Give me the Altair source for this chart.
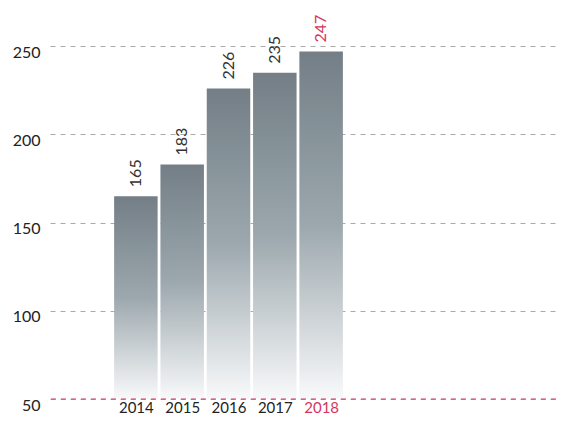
import altair as alt
import pandas as pd

years = [2014, 2015, 2016, 2017, 2018]
values = [165, 183, 226, 235, 247]
y_ticks = [50, 100, 150, 200, 250]

df = pd.DataFrame({"year": years, "value": values})

FONT = "Lato"
RED = "#d6365c"

x_scale = alt.Scale(domain=[2012.254, 2022.963], nice=False, zero=False)
y_scale = alt.Scale(domain=[50, 270], nice=False, zero=False)

x_enc = alt.X(
    "year:Q",
    scale=x_scale,
    axis=alt.Axis(
        title=None, domain=False, ticks=False, grid=False, labelAngle=0,
        values=years, format="d",
        labelFont=FONT, labelFontSize=15, labelPadding=1, labelBaseline="top",
        labelColor=alt.ExprRef("datum.value == 2018 ? '%s' : '#222222'" % RED),
    ),
)

grad = alt.Gradient(
    gradient="linear",
    x1=0, y1=0, x2=0, y2=1,
    stops=[
        alt.GradientStop(offset=0, color="#737e86"),
        alt.GradientStop(offset=0.5, color="#9ca8ae"),
        alt.GradientStop(offset=1, color="#f8f9fa"),
    ],
)

bars = alt.Chart(df).mark_bar(color=grad, width=43.5).encode(
    x=x_enc,
    y=alt.Y(
        "value:Q", scale=y_scale,
        axis=alt.Axis(
            title=None, values=y_ticks, domain=False, ticks=False,
            grid=True, gridDash=[5, 5], gridColor="#aaaaaa", gridWidth=1,
            labelFont=FONT, labelFontSize=16, labelColor="#222222",
            labelPadding=10, labelBaseline="top", labelOffset=-2,
        ),
    ),
    y2=alt.datum(50),
)

labels = alt.Chart(df).mark_text(
    angle=270, align="left", baseline="middle", dx=9, font=FONT, fontSize=16,
).encode(
    x=alt.X("year:Q", scale=x_scale),
    y=alt.Y("value:Q", scale=y_scale),
    text=alt.Text("value:Q"),
    color=alt.condition(alt.datum.year == 2018, alt.value(RED), alt.value("#333333")),
)

red_rule = alt.Chart(pd.DataFrame({"v": [50]})).mark_rule(
    color=RED, strokeDash=[5, 5], strokeWidth=1,
).encode(y=alt.Y("v:Q", scale=y_scale))

chart = alt.layer(bars, red_rule, labels).properties(
    width=506, height=388,
    autosize=alt.AutoSizeParams(type="none"),
    padding={"left": 42, "top": 3, "right": 0, "bottom": 16},
).configure_view(stroke=None)

chart.save("out.html", embed_options={"renderer": "svg", "actions": False})
